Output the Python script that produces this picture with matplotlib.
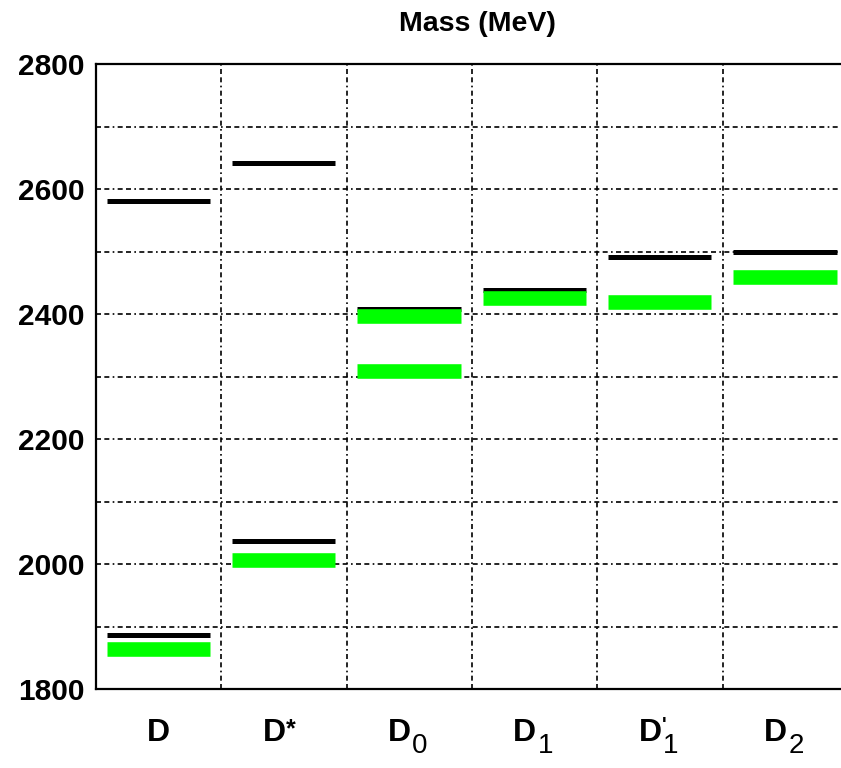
import matplotlib
matplotlib.use("Agg")
import matplotlib.pyplot as plt
from matplotlib.ticker import MultipleLocator, FixedLocator

plt.rcParams["font.family"] = ["Liberation Sans", "DejaVu Sans"]

# meson channels along x
base = ["D", "D", "D", "D", "D", "D"]
subs = ["", "", "0", "1", "1", "2"]
sups = ["", "*", "", "", "'", ""]

# model levels (black) and measured levels (green), MeV
calc_pos = [0, 0, 1, 1, 2, 3, 4, 5]
calc_mass = [1887, 2581, 2037, 2642, 2408, 2439, 2491, 2499]
expt_pos = [0, 1, 2, 2, 3, 4, 5]
expt_mass = [1865, 2007, 2397, 2310, 2426, 2419, 2459]

fig = plt.figure(figsize=(8.41, 7.68), dpi=100)
ax = fig.add_axes([96 / 841, 1 - 689.3 / 768, (848 - 96) / 841, (689.3 - 64.3) / 768])

x0 = [p - 0.415 for p in calc_pos]
x1 = [p + 0.41 for p in calc_pos]
ax.hlines(calc_mass, x0, x1, colors="black", linewidth=3.6, zorder=3)
x0 = [p - 0.415 for p in expt_pos]
x1 = [p + 0.41 for p in expt_pos]
ax.hlines(expt_mass, x0, x1, colors="#00ff00", linewidth=10.5, zorder=4)

ax.set_xlim(-0.5, 5.5)
ax.set_ylim(1800, 2800)
ax.yaxis.set_major_locator(MultipleLocator(200))
ax.yaxis.set_minor_locator(MultipleLocator(100))
ax.xaxis.set_major_locator(FixedLocator(range(6)))
ax.xaxis.set_minor_locator(FixedLocator([0.5, 1.5, 2.5, 3.5, 4.5]))
ax.set_xticklabels([])
ax.tick_params(which="both", length=0)
ax.tick_params(axis="y", labelsize=21.5, pad=8)
for t in ax.get_yticklabels():
    t.set_fontweight("bold")

dash = (0, (3, 2, 3, 2, 1, 2))
ax.grid(True, which="both", axis="y", color="black", linestyle=dash, linewidth=1.2)
ax.grid(True, which="minor", axis="x", color="black", linestyle=dash, linewidth=1.2)
ax.set_axisbelow(True)

for s in ["left", "top", "bottom"]:
    ax.spines[s].set_linewidth(1.6)
ax.spines["right"].set_visible(False)

# channel names with sub/superscripts
for i in range(6):
    shift = -10 if (subs[i] or sups[i]) else 0
    ax.annotate(base[i], xy=(i, 0), xycoords=("data", "axes fraction"),
                xytext=(shift, -44), textcoords="offset pixels",
                ha="center", va="center", fontsize=23, fontweight="bold")
    if subs[i]:
        ax.annotate(subs[i], xy=(i, 0), xycoords=("data", "axes fraction"),
                    xytext=(shift + 13, -57), textcoords="offset pixels",
                    ha="left", va="center", fontsize=20)
    if sups[i]:
        # the prime sits above a subscript, so it stays small
        size = 14 if subs[i] else 18
        ax.annotate(sups[i], xy=(i, 0), xycoords=("data", "axes fraction"),
                    xytext=(shift + 12, -28), textcoords="offset pixels",
                    ha="left", va="top", fontsize=size, fontweight="bold")

fig.text(477.5 / 841, 1 - 24 / 768, "Mass (MeV)", ha="center", va="center",
         fontsize=20.5, fontweight="bold")

fig.savefig("out.png", dpi=100)
